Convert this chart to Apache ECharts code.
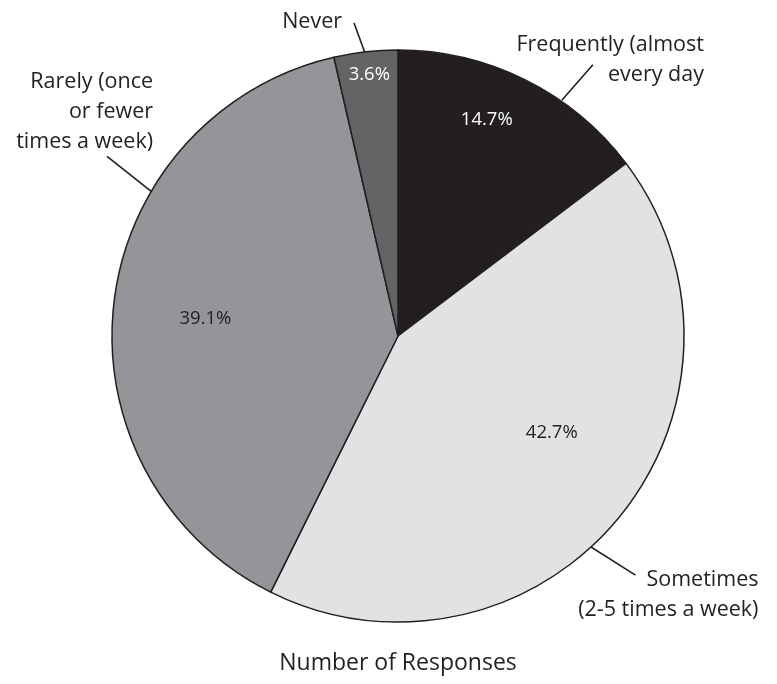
<!DOCTYPE html>
<html>
<head>
<meta charset="utf-8">
<script src="https://cdn.jsdelivr.net/npm/echarts@6/dist/echarts.min.js"></script>
<style>
  html, body { margin: 0; padding: 0; background: #ffffff; }
  #chart { width: 777px; height: 684px; }
</style>
</head>
<body>
<div id="chart"></div>
<script>
// ---- Data ----
const categories = [
  'Frequently (almost\nevery day',
  'Sometimes\n(2-5 times a week)',
  'Rarely (once\nor fewer\ntimes a week)',
  'Never'
];
const values = [14.7, 42.7, 39.1, 3.6];
const chartTitle = 'Number of Responses';

// ---- Styles / layout ----
const sliceColors = ['#231f20', '#e1e2e4', '#939598', '#636466'];
const pctColors = ['#ffffff', '#231f20', '#231f20', '#ffffff'];
const FONT = "'Open Sans', 'Noto Sans', sans-serif";
const CX = 398, CY = 336, R = 286;
// inside label placement: [angle offset from slice middle (deg), fraction of radius]
const pctPlace = [[-4.1, 0.817], [-7.5, 0.635], [-1.5, 0.676], [0.2, 0.918]];
// leader lines: start [angle, radius], end [angle, radius] ; label offset from line end [dx, dy] (right-aligned)
const leader = [
  { s: [34.8, 287], e: [35.7, 334], off: [111, -5] },
  { s: [138.6, 268], e: [135.2, 337], off: [123, 20] },
  { s: [300.3, 284], e: [301.7, 342], off: [46, -44] },
  { s: [353.35, 285], e: [352.0, 316], off: [-12, -1] }
];

const total = values.reduce((a, b) => a + b, 0);
function midAngle(i) {
  let cum = 0;
  for (let k = 0; k < i; k++) cum += values[k];
  return (cum + values[i] / 2) / total * 360;
}
function polar(angDeg, r) {
  const a = angDeg * Math.PI / 180;
  return [CX + r * Math.sin(a), CY - r * Math.cos(a)];
}

const pieData = categories.map((name, i) => ({
  name: name,
  value: values[i],
  itemStyle: { color: sliceColors[i] },
  label: { color: pctColors[i] }
}));
const labelData = categories.map((name, i) => ({ name: name, value: values[i] }));

const chart = echarts.init(document.getElementById('chart'), null, { renderer: 'canvas' });
chart.setOption({
  animation: false,
  backgroundColor: '#ffffff',
  title: {
    text: chartTitle,
    left: CX,
    textAlign: 'center',
    top: 652,
    padding: 0,
    textStyle: { fontFamily: FONT, fontSize: 23, fontWeight: 'normal', color: '#231f20' }
  },
  series: [
    {
      type: 'pie',
      center: [CX, CY],
      radius: [0, R],
      startAngle: 90,
      clockwise: true,
      silent: true,
      data: pieData,
      itemStyle: { borderColor: '#231f20', borderWidth: 1.5 },
      label: {
        show: true,
        position: 'inside',
        formatter: '{c}%',
        fontFamily: FONT,
        fontSize: 18.5,
        align: 'center',
        verticalAlign: 'middle'
      },
      labelLine: { show: false },
      labelLayout: function (p) {
        const i = p.dataIndex;
        const pt = polar(midAngle(i) + pctPlace[i][0], R * pctPlace[i][1]);
        return { x: pt[0], y: pt[1], align: 'center', verticalAlign: 'middle' };
      }
    },
    {
      type: 'pie',
      center: [CX, CY],
      radius: [0, R],
      startAngle: 90,
      clockwise: true,
      silent: true,
      data: labelData,
      itemStyle: { color: 'rgba(0,0,0,0)', borderWidth: 0 },
      label: {
        show: true,
        position: 'outside',
        formatter: '{b}',
        fontFamily: FONT,
        fontSize: 21.5,
        lineHeight: 30,
        width: 300,
        overflow: 'none',
        color: '#231f20'
      },
      labelLine: { show: true, length: 20, length2: 0, lineStyle: { color: '#231f20', width: 1.6 } },
      labelLayout: function (p) {
        const i = p.dataIndex;
        const L = leader[i];
        const a = polar(L.s[0], L.s[1]);
        const b = polar(L.e[0], L.e[1]);
        return {
          x: b[0] + L.off[0],
          y: b[1] + L.off[1],
          align: 'right',
          verticalAlign: 'middle',
          labelLinePoints: [a, b, b]
        };
      }
    }
  ]
});
</script>
</body>
</html>
